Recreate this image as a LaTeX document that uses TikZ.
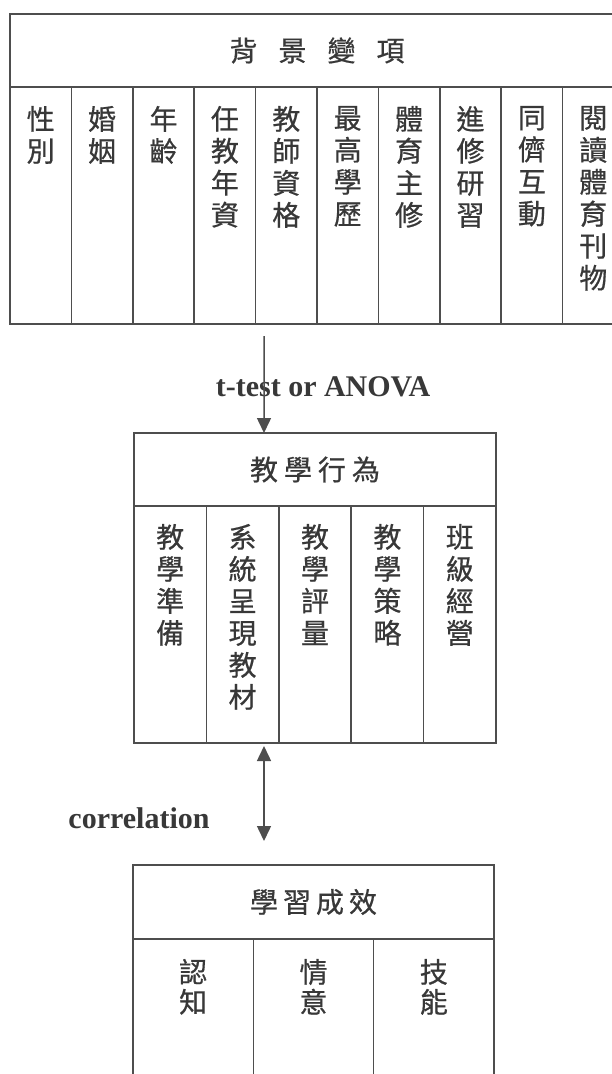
\documentclass[tikz,border=0pt]{standalone}
\usepackage{fontspec}
\setmainfont{Liberation Serif}
\newfontfamily\cjk[FakeBold=0.6]{Noto Sans CJK TC}
\usepackage{tikz}
\usetikzlibrary{positioning,arrows.meta}
\definecolor{linegray}{HTML}{4E4E4E}
\definecolor{inkgray}{HTML}{383838}

\begin{document}
\begin{tikzpicture}[x=1pt,y=1pt,
    every node/.style={inner sep=0pt,outer sep=0pt},
    cell/.style={draw=linegray,line width=1.5pt,minimum height=237pt},
    head/.style={draw=linegray,line width=1.5pt,minimum height=73pt,
        font=\cjk\fontsize{28}{32}\selectfont,text=inkgray},
    vtext/.style={align=center,font=\cjk\fontsize{28}{32}\selectfont,text=inkgray},
    lbl/.style={font=\bfseries\fontsize{30}{36}\selectfont,text=inkgray},
    arr/.style={draw=linegray,line width=1.5pt,-{Triangle[length=15pt,width=14pt]}},
    dblarr/.style={draw=linegray,line width=1.5pt,
        {Triangle[length=15pt,width=14pt]}-{Triangle[length=15pt,width=14pt]}}]
    \useasboundingbox (0,0) rectangle (612,-1074);
    \fill[white] (0,0) rectangle (612,-1074);
    \clip (0,0) rectangle (612,-1074);
    % background variables
    \node[head,minimum width=614pt,anchor=north west] (bg) at (10,-14)
        {背\hspace{.75em}景\hspace{.75em}變\hspace{.75em}項};
    \node[cell,minimum width=61.4pt,anchor=north west] (c1) at (bg.south west) {};
    \node[cell,minimum width=61.4pt,right=0pt of c1] (c2) {};
    \node[cell,minimum width=61.4pt,right=0pt of c2] (c3) {};
    \node[cell,minimum width=61.4pt,right=0pt of c3] (c4) {};
    \node[cell,minimum width=61.4pt,right=0pt of c4] (c5) {};
    \node[cell,minimum width=61.4pt,right=0pt of c5] (c6) {};
    \node[cell,minimum width=61.4pt,right=0pt of c6] (c7) {};
    \node[cell,minimum width=61.4pt,right=0pt of c7] (c8) {};
    \node[cell,minimum width=61.4pt,right=0pt of c8] (c9) {};
    \node[cell,minimum width=61.4pt,right=0pt of c9] (c10) {};
    \node[vtext,below=19pt of c1.north] (v1) {性\\別};
    \node[vtext,below=19pt of c2.north] (v2) {婚\\姻};
    \node[vtext,below=19pt of c3.north] (v3) {年\\齡};
    \node[vtext,below=19pt of c4.north] (v4) {任\\教\\年\\資};
    \node[vtext,below=19pt of c5.north] (v5) {教\\師\\資\\格};
    \node[vtext,below=19pt of c6.north] (v6) {最\\高\\學\\歷};
    \node[vtext,below=19pt of c7.north] (v7) {體\\育\\主\\修};
    \node[vtext,below=19pt of c8.north] (v8) {進\\修\\研\\習};
    \node[vtext,below=19pt of c9.north] (v9) {同\\儕\\互\\動};
    \node[vtext,below=19pt of c10.north] (v10) {閱\\讀\\體\\育\\刊\\物};
    % teaching behaviour
    \node[head,minimum width=362pt,anchor=north west] (beh) at (134,-433)
        {教\hspace{6pt}學\hspace{6pt}行\hspace{6pt}為};
    \node[cell,minimum width=72.4pt,anchor=north west] (s1) at (beh.south west) {};
    \node[cell,minimum width=72.4pt,right=0pt of s1] (s2) {};
    \node[cell,minimum width=72.4pt,right=0pt of s2] (s3) {};
    \node[cell,minimum width=72.4pt,right=0pt of s3] (s4) {};
    \node[cell,minimum width=72.4pt,right=0pt of s4] (s5) {};
    \node[vtext,below=18pt of s1.north] (w1) {教\\學\\準\\備};
    \node[vtext,below=18pt of s2.north] (w2) {系\\統\\呈\\現\\教\\材};
    \node[vtext,below=18pt of s3.north] (w3) {教\\學\\評\\量};
    \node[vtext,below=18pt of s4.north] (w4) {教\\學\\策\\略};
    \node[vtext,below=18pt of s5.north] (w5) {班\\級\\經\\營};
    % learning outcomes
    \node[head,minimum width=361pt,minimum height=74pt,anchor=north west] (lo) at (133,-865)
        {學\hspace{5pt}習\hspace{5pt}成\hspace{5pt}效};
    \node[cell,minimum width=120.33pt,minimum height=250pt,anchor=north west] (r1) at (lo.south west) {};
    \node[cell,minimum width=120.33pt,minimum height=250pt,right=0pt of r1] (r2) {};
    \node[cell,minimum width=120.33pt,minimum height=250pt,right=0pt of r2] (r3) {};
    \node[vtext,font=\cjk\fontsize{28}{30}\selectfont,below=20pt of r1.north] (x1) {認\\知};
    \node[vtext,font=\cjk\fontsize{28}{30}\selectfont,below=20pt of r2.north] (x2) {情\\意};
    \node[vtext,font=\cjk\fontsize{28}{30}\selectfont,below=20pt of r3.north] (x3) {技\\能};
    % tests
    \node[lbl] (tt) at (323,-387) {t-test or ANOVA};
    \node[lbl] (cor) at (139,-818) {correlation};
    \draw[arr] ([xshift=8.4pt,yshift=-12pt]c5.south west) -- ([xshift=130pt]beh.north west);
    \draw[dblarr] ([xshift=57.6pt,yshift=-3pt]s2.south west) -- ([xshift=131pt,yshift=24pt]lo.north west);
\end{tikzpicture}
\end{document}
